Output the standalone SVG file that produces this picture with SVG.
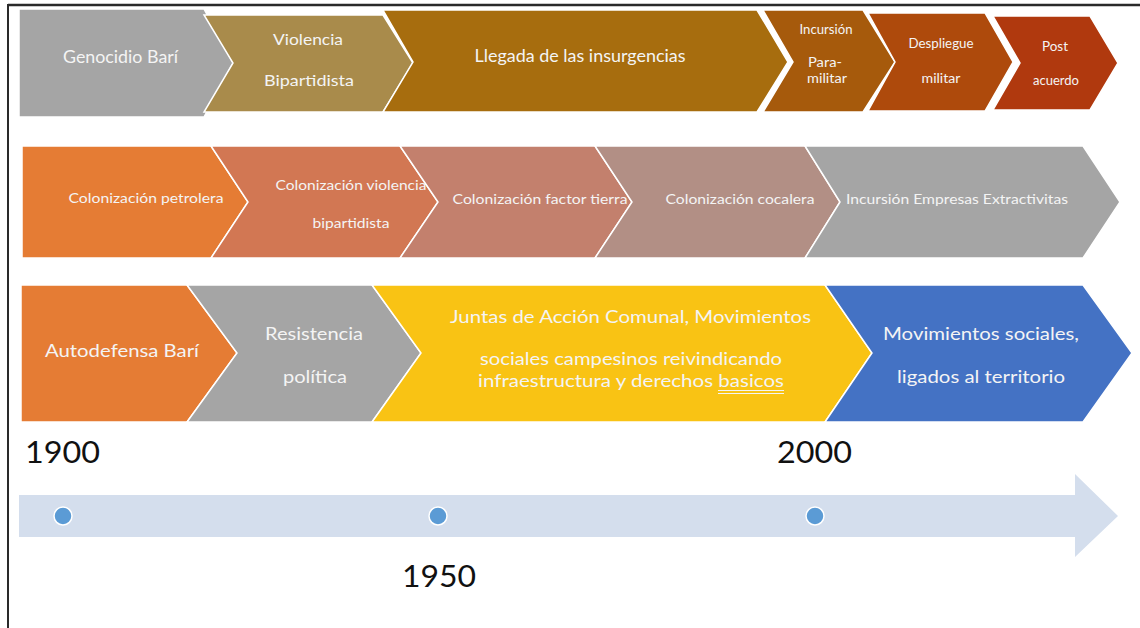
<svg xmlns="http://www.w3.org/2000/svg" width="1140" height="628" viewBox="0 0 1140 628">
<style>
.shape{stroke:#ffffff;stroke-width:1.5;stroke-linejoin:miter}
.lbl{font-family:Lato,"Open Sans","Liberation Sans",sans-serif;fill:#F4F4F4;text-anchor:middle}
.s17{font-size:17px}
.s16{font-size:16px}
.s14{font-size:14px}
.s13{font-size:12.5px}
.s18{font-size:18px}
.year{font-family:Lato,"Open Sans","Liberation Sans",sans-serif;font-size:30px;fill:#111111;text-anchor:middle}
.dot{fill:#5B9BD5;stroke:#ffffff;stroke-width:1.5}
</style>
<rect x="0" y="0" width="1140" height="628" fill="#ffffff"/>
<g id="frame">
<line x1="8" y1="5" x2="1140" y2="5" stroke="#2a2a2a" stroke-width="2.5"/>
<line x1="8" y1="4" x2="8" y2="628" stroke="#2a2a2a" stroke-width="2"/>
</g>
<!-- Top row -->
<g id="genocidio">
<path class="shape" d="M19,9 L204,9 L233,63 L204,117 L19,117 Z" fill="#A5A5A5"/>
<text class="lbl s17" x="120.5" y="63" textLength="115" lengthAdjust="spacingAndGlyphs">Genocidio Barí</text>
</g>
<g id="violencia">
<path class="shape" d="M204,15 L383,15 L413,63 L383,112 L204,112 L233,63 Z" fill="#A98B4B"/>
<text class="lbl s16" x="308" y="45" textLength="70" lengthAdjust="spacingAndGlyphs">Violencia</text>
<text class="lbl s16" x="309" y="86" textLength="90" lengthAdjust="spacingAndGlyphs">Bipartidista</text>
</g>
<g id="llegada">
<path class="shape" d="M383,10 L757,10 L788,62 L757,112 L383,112 L413,62 Z" fill="#A76D0E"/>
<text class="lbl s17" x="580" y="62" textLength="211" lengthAdjust="spacingAndGlyphs">Llegada de las insurgencias</text>
</g>
<g id="incursion">
<path class="shape" d="M763,10 L863,10 L895,62 L863,112 L763,112 L793,62 Z" fill="#A65A0C"/>
<text class="lbl s13" x="826" y="34" textLength="53" lengthAdjust="spacingAndGlyphs">Incursión</text>
<text class="lbl s13" x="825" y="67" textLength="34" lengthAdjust="spacingAndGlyphs">Para-</text>
<text class="lbl s13" x="827" y="83" textLength="40" lengthAdjust="spacingAndGlyphs">militar</text>
</g>
<g id="despliegue">
<path class="shape" d="M868,13 L985,13 L1013,62 L985,111 L868,111 L895,62 Z" fill="#AE4A0C"/>
<text class="lbl s13" x="941" y="48" textLength="65" lengthAdjust="spacingAndGlyphs">Despliegue</text>
<text class="lbl s13" x="941" y="83" textLength="39" lengthAdjust="spacingAndGlyphs">militar</text>
</g>
<g id="post">
<path class="shape" d="M993,16 L1090,16 L1118,63 L1090,110 L993,110 L1020,63 Z" fill="#B0390E"/>
<text class="lbl s13" x="1055" y="51" textLength="26" lengthAdjust="spacingAndGlyphs">Post</text>
<text class="lbl s13" x="1056" y="85" textLength="46" lengthAdjust="spacingAndGlyphs">acuerdo</text>
</g>
<!-- Middle row -->
<g id="petrolera">
<path class="shape" d="M22,146 L211,146 L248,202 L211,258 L22,258 Z" fill="#E57C34"/>
<text class="lbl s14" x="146" y="203" textLength="155" lengthAdjust="spacingAndGlyphs">Colonización petrolera</text>
</g>
<g id="col-violencia">
<path class="shape" d="M211,146 L400,146 L438,202 L400,258 L211,258 L248,202 Z" fill="#D27753"/>
<text class="lbl s14" x="351" y="190" textLength="151" lengthAdjust="spacingAndGlyphs">Colonización violencia</text>
<text class="lbl s14" x="351" y="228" textLength="77" lengthAdjust="spacingAndGlyphs">bipartidista</text>
</g>
<g id="factor-tierra">
<path class="shape" d="M400,146 L595,146 L632,202 L595,258 L400,258 L438,202 Z" fill="#C3806D"/>
<text class="lbl s14" x="540" y="204" textLength="175" lengthAdjust="spacingAndGlyphs">Colonización factor tierra</text>
</g>
<g id="cocalera">
<path class="shape" d="M595,146 L805,146 L840,202 L805,258 L595,258 L632,202 Z" fill="#B28F85"/>
<text class="lbl s14" x="740" y="204" textLength="149" lengthAdjust="spacingAndGlyphs">Colonización cocalera</text>
</g>
<g id="extractivas">
<path class="shape" d="M805,146 L1083,146 L1120,202 L1083,258 L805,258 L840,202 Z" fill="#A5A5A5"/>
<text class="lbl s14" x="957" y="204" textLength="222" lengthAdjust="spacingAndGlyphs">Incursión Empresas Extractivitas</text>
</g>
<!-- Bottom row -->
<g id="autodefensa">
<path class="shape" d="M21,285 L187,285 L237,353 L187,422 L21,422 Z" fill="#E57C34"/>
<text class="lbl s17" x="122" y="357" textLength="154" lengthAdjust="spacingAndGlyphs">Autodefensa Barí</text>
</g>
<g id="resistencia">
<path class="shape" d="M187,285 L372,285 L421,353 L372,422 L187,422 L237,353 Z" fill="#A5A5A5"/>
<text class="lbl s17" x="314" y="340" textLength="98" lengthAdjust="spacingAndGlyphs">Resistencia</text>
<text class="lbl s17" x="315" y="383" textLength="64" lengthAdjust="spacingAndGlyphs">política</text>
</g>
<g id="juntas">
<path class="shape" d="M372,285 L825,285 L872,353 L825,422 L372,422 L421,353 Z" fill="#F9C314"/>
<text class="lbl s17" x="630.5" y="323" textLength="361" lengthAdjust="spacingAndGlyphs">Juntas de Acción Comunal, Movimientos</text>
<text class="lbl s17" x="631" y="365" textLength="302" lengthAdjust="spacingAndGlyphs">sociales campesinos reivindicando</text>
<text class="lbl s17" x="631" y="387" textLength="306" lengthAdjust="spacingAndGlyphs">infraestructura y derechos basicos</text>
<line x1="718" y1="390.5" x2="784" y2="390.5" stroke="#F4F4F4" stroke-width="1"/>
<line x1="718" y1="393.5" x2="784" y2="393.5" stroke="#F4F4F4" stroke-width="1"/>
</g>
<g id="movimientos">
<path class="shape" d="M825,285 L1083,285 L1132,353 L1083,422 L825,422 L872,353 Z" fill="#4472C4"/>
<text class="lbl s17" x="981" y="340" textLength="196" lengthAdjust="spacingAndGlyphs">Movimientos sociales,</text>
<text class="lbl s17" x="981" y="383" textLength="168" lengthAdjust="spacingAndGlyphs">ligados al territorio</text>
</g>
<!-- Timeline -->
<g id="timeline">
<path d="M19,495 L1075,495 L1075,474 L1118,516 L1075,557 L1075,537 L19,537 Z" fill="#D4DEED"/>
<circle class="dot" cx="63" cy="516" r="9"/>
<circle class="dot" cx="438" cy="516" r="9"/>
<circle class="dot" cx="815" cy="516" r="9"/>
</g>
<g id="years">
<text class="year" x="62.5" y="463" textLength="75" lengthAdjust="spacingAndGlyphs">1900</text>
<text class="year" x="814.5" y="463" textLength="75" lengthAdjust="spacingAndGlyphs">2000</text>
<text class="year" x="439" y="587" textLength="74" lengthAdjust="spacingAndGlyphs">1950</text>
</g>
</svg>
